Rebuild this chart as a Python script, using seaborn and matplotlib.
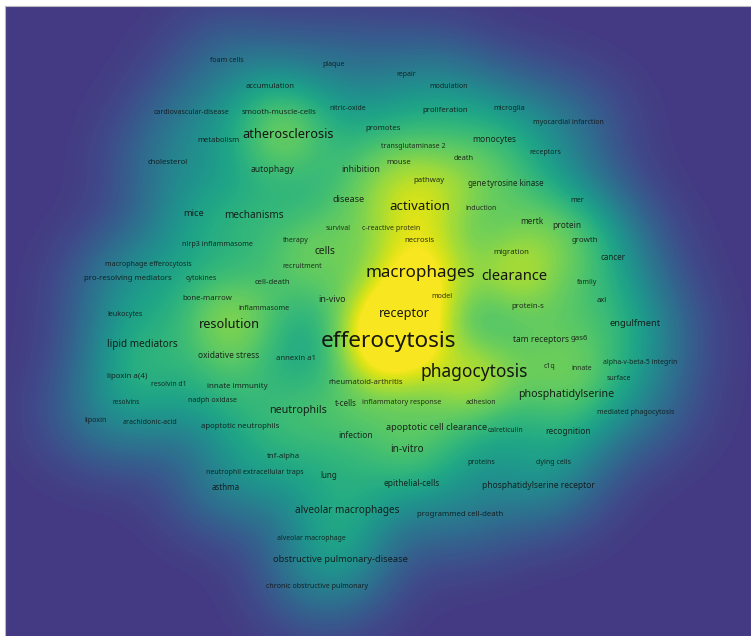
import numpy as np
import pandas as pd
import matplotlib
matplotlib.use("Agg")
import matplotlib.pyplot as plt
import seaborn as sns
from matplotlib.colors import ListedColormap

# Keyword co-occurrence map: label, map position and number of occurrences
keywords = [
    "efferocytosis", "macrophages", "phagocytosis", "clearance", "activation",
    "atherosclerosis", "resolution", "receptor", "neutrophils", "phosphatidylserine",
    "mechanisms", "cells", "lipid mediators", "alveolar macrophages", "in-vitro",
    "mice", "engulfment", "obstructive pulmonary-disease", "apoptotic cell clearance", "disease",
    "in-vivo", "recognition", "monocytes", "epithelial-cells", "phosphatidylserine receptor",
    "oxidative stress", "innate immunity", "annexin a1", "bone-marrow", "cell-death",
    "autophagy", "accumulation", "smooth-muscle-cells", "infection", "lung",
    "tnf-alpha", "t-cells", "apoptotic neutrophils", "lipoxin a(4)", "proliferation",
    "death", "mertk", "protein", "inhibition", "cancer",
    "growth", "migration", "protein-s", "tam receptors", "gas6",
    "pathway", "gene", "tyrosine kinase", "mouse", "transglutaminase 2",
    "promotes", "foam cells", "plaque", "cardiovascular-disease", "nitric-oxide",
    "metabolism", "cholesterol", "repair", "modulation", "microglia",
    "myocardial infarction", "receptors", "induction", "mer", "c-reactive protein",
    "necrosis", "survival", "therapy", "nlrp3 inflammasome", "macrophage efferocytosis",
    "recruitment", "pro-resolving mediators", "cytokines", "inflammasome", "leukocytes",
    "resolvin d1", "resolvins", "nadph oxidase", "lipoxin", "arachidonic-acid",
    "neutrophil extracellular traps", "asthma", "alveolar macrophage", "chronic obstructive pulmonary", "inflammatory response",
    "rheumatoid-arthritis", "model", "adhesion", "mediated phagocytosis", "calreticulin",
    "proteins", "dying cells", "programmed cell-death", "family", "axl",
    "c1q", "innate", "alpha-v-beta-5 integrin", "surface",
]
pos_x = [
    389, 420, 474, 514, 420,
    288, 229, 404, 298, 566,
    254, 325, 142, 347, 407,
    194, 635, 340, 437, 349,
    332, 568, 494, 412, 538,
    229, 237, 296, 207, 272,
    273, 270, 279, 356, 329,
    283, 346, 240, 127, 445,
    464, 532, 567, 361, 613,
    585, 511, 528, 541, 579,
    429, 477, 515, 399, 413,
    383, 227, 334, 192, 348,
    218, 168, 406, 449, 509,
    568, 545, 481, 577, 391,
    419, 338, 296, 217, 148,
    302, 128, 201, 264, 125,
    169, 126, 213, 96, 150,
    255, 226, 311, 317, 402,
    366, 442, 481, 636, 505,
    481, 554, 460, 587, 602,
    550, 582, 640, 619,
]
pos_y = [
    341, 273, 372, 276, 207,
    135, 325, 314, 411, 395,
    215, 252, 345, 511, 450,
    214, 323, 560, 427, 199,
    299, 431, 140, 483, 485,
    356, 387, 358, 299, 283,
    169, 87, 113, 436, 476,
    456, 404, 426, 376, 110,
    159, 222, 226, 170, 257,
    241, 252, 307, 340, 338,
    181, 183, 183, 162, 146,
    128, 60, 64, 113, 108,
    140, 163, 74, 86, 109,
    122, 153, 209, 200, 229,
    240, 229, 240, 244, 265,
    267, 279, 278, 308, 315,
    384, 402, 400, 420, 422,
    472, 487, 539, 587, 403,
    382, 296, 402, 412, 430,
    462, 463, 514, 283, 300,
    367, 368, 363, 379,
]
occurrences = [
    324, 154, 162, 102, 74,
    66, 65, 64, 37, 36,
    29, 32, 29, 29, 29,
    22, 22, 22, 21, 21,
    19, 14, 15, 14, 15,
    14, 11, 10, 10, 10,
    16, 10, 11, 14, 12,
    10, 12, 10, 11, 10,
    8, 13, 14, 16, 12,
    11, 10, 10, 15, 11,
    10, 12, 12, 10, 6,
    10, 6, 5, 6, 5,
    9, 10, 5, 6, 7,
    6, 6, 6, 7, 6,
    10, 5, 6, 7, 6,
    6, 10, 6, 7, 6,
    5, 4, 6, 6, 6,
    6, 12, 5, 6, 7,
    10, 6, 6, 6, 5,
    6, 6, 10, 6, 9,
    6, 5, 5, 6,
]

df = pd.DataFrame({"keyword": keywords, "x": pos_x, "y": pos_y, "occ": occurrences})
df["density_weight"] = df["occ"] ** 0.55

sns.set_theme(style="white")
plt.rcParams["font.family"] = ["Noto Sans", "DejaVu Sans"]

W, H = 751, 636
fig = plt.figure(figsize=(W / 100, H / 100), dpi=100, facecolor="white")
ax = fig.add_axes([5 / W, 0, (W - 5) / W, (H - 6) / H])

# Density colour scale: upper part of viridis, saturating to yellow near the peaks
t = np.linspace(0, 1, 256)
u = np.clip(t / 0.76, 0, 1) ** 0.85
cmap = ListedColormap(plt.get_cmap("viridis")(0.17 + 0.82 * u))
ax.set_facecolor(cmap(0))

# Fine iso-proportion levels, dense in the low-density tails as well
levels = np.unique(np.concatenate([[0.0], np.geomspace(1e-7, 1, 240), np.linspace(0, 1, 160)]))

sns.kdeplot(
    data=df, x="x", y="y", weights="density_weight",
    fill=True, levels=levels, cmap=cmap,
    bw_method=0.3, gridsize=260, cut=30,
    clip=((5, 751), (6, 636)), antialiased=False, ax=ax,
)

# Keyword labels, sized by occurrences
for _, row in df.iterrows():
    size_px = 4.6 + np.sqrt(row["occ"])
    ax.text(row["x"], row["y"], row["keyword"], ha="center", va="center",
            fontsize=size_px * 0.72, color="#101010",
            alpha=0.82 + min(row["occ"], 60) / 60 * 0.15)

ax.set_xlim(5, 751)
ax.set_ylim(636, 6)
ax.set_xticks([])
ax.set_yticks([])
ax.set_xlabel("")
ax.set_ylabel("")
for side in ("right", "bottom"):
    ax.spines[side].set_visible(False)
for side in ("left", "top"):
    ax.spines[side].set_color("#b8b8c0")
    ax.spines[side].set_linewidth(0.8)

fig.savefig("out.png", dpi=100, facecolor="white")
